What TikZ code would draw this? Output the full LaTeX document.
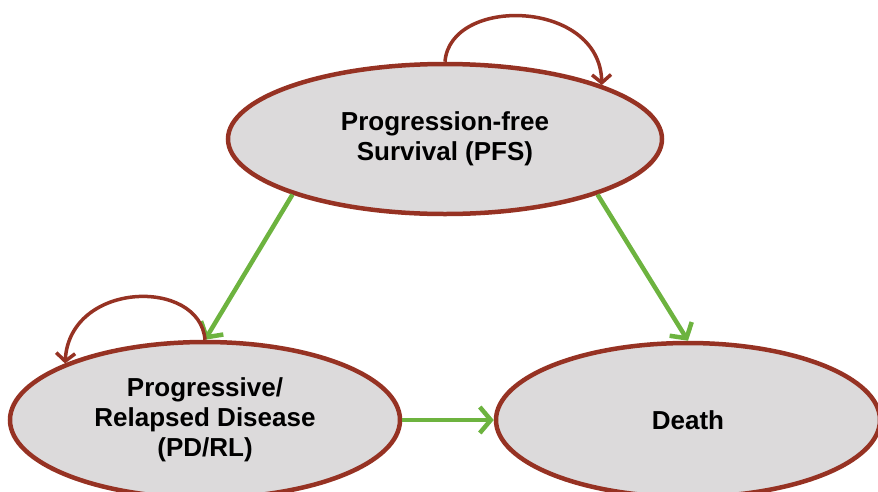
\documentclass[tikz,border=0pt]{standalone}
\usepackage{fontspec}
\setmainfont{Liberation Sans}
\usetikzlibrary{shapes.geometric,arrows.meta}
\definecolor{brd}{HTML}{963223}
\definecolor{grn}{HTML}{6DB33F}
\definecolor{fillg}{HTML}{DCDADB}
\tikzset{
  state/.style={ellipse, draw=brd, line width=4.5pt, fill=fillg, inner sep=0pt,
    align=center, font=\fontsize{26}{30}\selectfont\bfseries},
  trans/.style={draw=grn, line width=4.5pt, -{Straight Barb[length=11pt,width=26pt]}},
  selfloop/.style={draw=brd, line width=3.5pt, -{Straight Barb[length=8pt,width=19pt]}}
}
\begin{document}
\begin{tikzpicture}[x=1pt,y=1pt]
\useasboundingbox (0,0) rectangle (878,-491);
\node[state, minimum width=434pt, minimum height=150pt] (pfs) at (445,-139) {Progression-free\\Survival (PFS)};
\node[state, minimum width=390pt, minimum height=156pt] (pd) at (205,-420) {Progressive/\\Relapsed Disease\\(PD/RL)};
\node[state, minimum width=384pt, minimum height=154pt] (death) at (688,-420) {Death};
\draw[trans] (pfs.200) -- (pd.north);
\draw[trans] (pfs.340) -- (death.north);
\draw[trans] (pd.east) -- (death.west);
\draw[selfloop] (pfs.north) .. controls +(5,66) and +(-2,86) .. (pfs.19);
\draw[selfloop] (pd.north) .. controls +(-5,62) and +(5,83) .. (pd.158);
\end{tikzpicture}
\end{document}
